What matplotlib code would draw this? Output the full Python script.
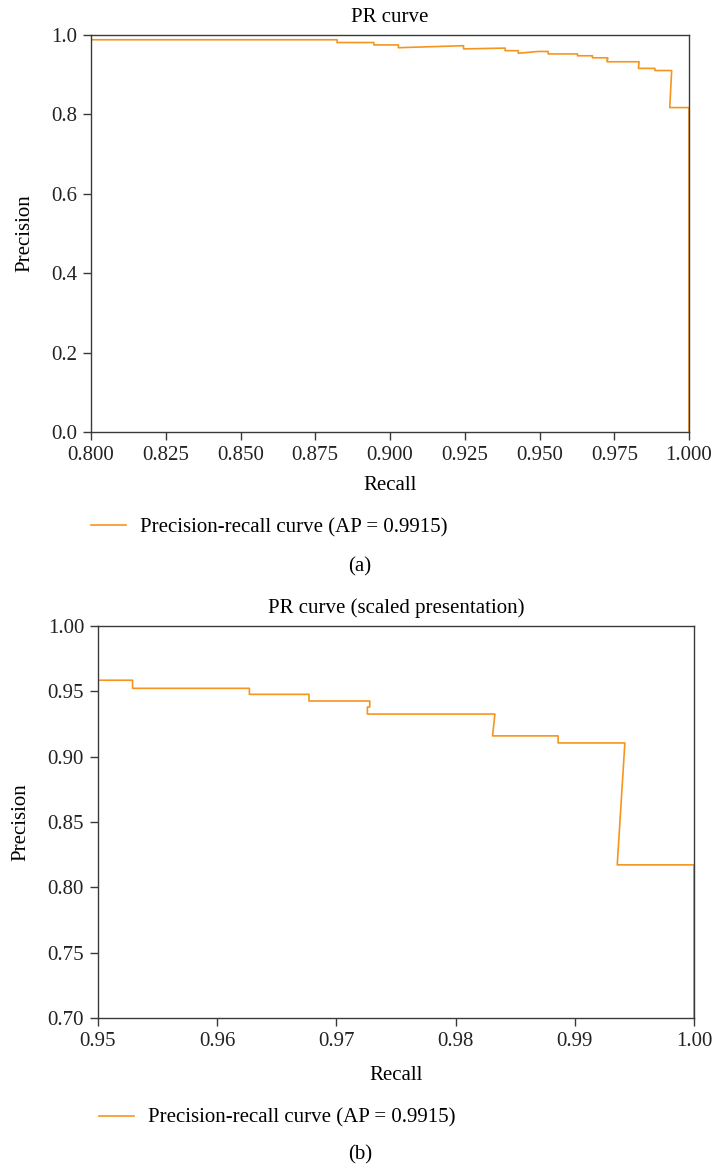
import numpy as np
import matplotlib.pyplot as plt

plt.rcParams['font.family'] = ['Liberation Serif', 'DejaVu Serif']
plt.rcParams['font.size'] = 15

# PR curve points (recall, precision)
recall = [0.800, 0.8823, 0.8823, 0.8946, 0.8946, 0.9028, 0.9028, 0.9246, 0.9246,
          0.9385, 0.9385, 0.9429, 0.9429, 0.9495, 0.9529, 0.9529, 0.9627, 0.9627,
          0.9677, 0.9677, 0.9728, 0.9728, 0.9726, 0.9726, 0.9833, 0.9831, 0.9886,
          0.9886, 0.9942, 0.99356, 1.000, 1.000]
precision = [0.988, 0.988, 0.981, 0.981, 0.975, 0.975, 0.968, 0.973, 0.965,
             0.967, 0.9605, 0.9605, 0.954, 0.9585, 0.9585, 0.9523, 0.9523, 0.9477,
             0.9477, 0.9426, 0.9426, 0.938, 0.938, 0.9326, 0.9326, 0.9159, 0.9159,
             0.9105, 0.9105, 0.8172, 0.8172, 0.0]
ap = 0.9915

top_xticks = [0.800, 0.825, 0.850, 0.875, 0.900, 0.925, 0.950, 0.975, 1.000]
top_yticks = [0.0, 0.2, 0.4, 0.6, 0.8, 1.0]
bot_xticks = [0.95, 0.96, 0.97, 0.98, 0.99, 1.00]
bot_yticks = [0.70, 0.75, 0.80, 0.85, 0.90, 0.95, 1.00]

color = "#f5951f"
W, H = 713, 1170
fig = plt.figure(figsize=(W / 100, H / 100), dpi=100)

ax1 = fig.add_axes([91 / W, 1 - 432 / H, 598 / W, 397 / H])
ax2 = fig.add_axes([98 / W, 1 - 1018 / H, 596 / W, 392 / H])


def style(ax):
    for s in ax.spines.values():
        s.set_color("#3a3a3a")
        s.set_linewidth(1.0)
    ax.tick_params(direction="out", length=6, width=1, color="#3a3a3a",
                   labelcolor="#222222", labelsize=15, pad=4)


line1, = ax1.plot(recall, precision, color=color, lw=1.2,
                  label="Precision-recall curve (AP = %.4f)" % ap)
ax1.set_xlim(0.8, 1.0)
ax1.set_ylim(0.0, 1.0)
ax1.set_xticks(top_xticks)
ax1.set_xticklabels(["%.3f" % t for t in top_xticks])
ax1.set_yticks(top_yticks)
ax1.set_yticklabels(["%.1f" % t for t in top_yticks])
ax1.set_title("PR curve", fontsize=15, pad=9)
ax1.set_xlabel("Recall", fontsize=15, labelpad=8)
ax1.set_ylabel("Precision", fontsize=15, labelpad=12)
style(ax1)

line2, = ax2.plot(recall, precision, color=color, lw=1.2,
                  label="Precision-recall curve (AP = %.4f)" % ap)
ax2.set_xlim(0.95, 1.0)
ax2.set_ylim(0.70, 1.0)
ax2.set_xticks(bot_xticks)
ax2.set_xticklabels(["%.2f" % t for t in bot_xticks])
ax2.set_yticks(bot_yticks)
ax2.set_yticklabels(["%.2f" % t for t in bot_yticks])
ax2.set_title("PR curve (scaled presentation)", fontsize=15, pad=9)
ax2.set_xlabel("Recall", fontsize=15, labelpad=11)
ax2.set_ylabel("Precision", fontsize=15, labelpad=12)
style(ax2)

fig.legend(handles=[line1], loc="center left", bbox_to_anchor=(91 / W, 1 - 528 / H),
           frameon=False, borderpad=0, borderaxespad=0, handlelength=1.7,
           handletextpad=0.63, fontsize=15)
fig.legend(handles=[line2], loc="center left", bbox_to_anchor=(99 / W, 1 - 1118 / H),
           frameon=False, borderpad=0, borderaxespad=0, handlelength=1.7,
           handletextpad=0.63, fontsize=15)

fig.text(360 / W, 1 - 567 / H, "(a)", ha="center", va="center", fontsize=15)
fig.text(360 / W, 1 - 1155 / H, "(b)", ha="center", va="center", fontsize=15)

plt.savefig("out.png", dpi=100)
